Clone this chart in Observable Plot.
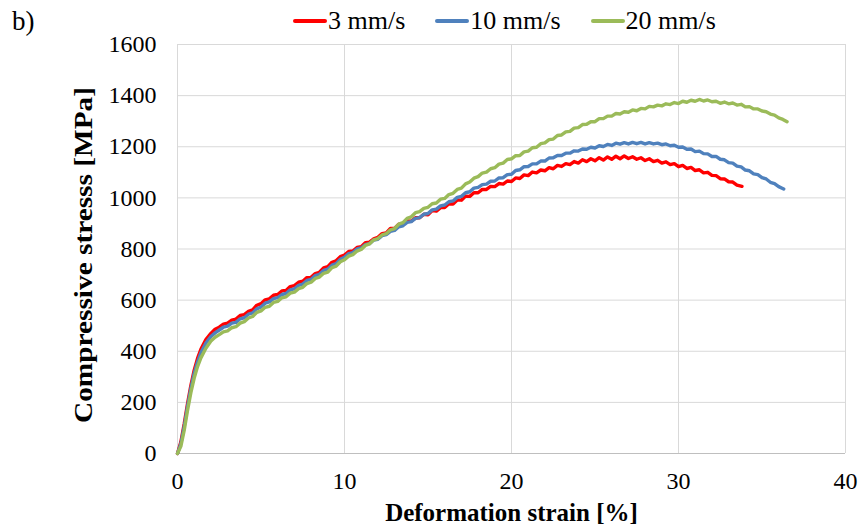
<!DOCTYPE html>
<html>
<head>
<meta charset="utf-8">
<script src="https://cdn.jsdelivr.net/npm/d3@7"></script>
<script src="https://cdn.jsdelivr.net/npm/@observablehq/plot@0.6"></script>
<style>
  body { margin: 0; background: #fff; font-family: "Liberation Serif", "Times New Roman", serif; }
  #wrap { position: relative; width: 861px; height: 532px; }
  #tag { position: absolute; left: 12px; top: 6px; font-size: 27px; }
  #legend { position: absolute; left: 293px; top: 6px; display: flex; gap: 30px; font-size: 26px; align-items: center; }
  .item { display: flex; align-items: center; }
  .sw { width: 34px; height: 4px; border-radius: 2px; margin-right: 1px; }
</style>
</head>
<body>
<div id="wrap">
  <div id="tag">b)</div>
  <div id="legend"></div>
  <div id="chart"></div>
</div>
<script>
const seriesNames = ["3 mm/s", "10 mm/s", "20 mm/s"];
const seriesColors = ["#ff0000", "#4f81bd", "#9bbb59"];
const xTicks = [0, 10, 20, 30, 40];
const yTicks = [0, 200, 400, 600, 800, 1000, 1200, 1400, 1600];

const red3 = [[0,0],[0.2,45],[0.4,115],[0.6,195],[0.8,266],[1.0,326],[1.2,372],[1.4,408],[1.7,446],[2.0,470],[2.25,486],[2.5,494],[2.75,506],[3.0,510],[3.25,522],[3.5,526],[3.75,540],[4.0,543],[4.25,556],[4.5,562],[4.75,580],[5.0,586],[5.25,601],[5.5,605],[5.75,619],[6.0,622],[6.25,636],[6.5,638],[6.75,653],[7.0,657],[7.25,670],[7.5,674],[7.75,688],[8.0,689],[8.25,704],[8.5,709],[8.75,726],[9.0,731],[9.25,748],[9.5,754],[9.75,770],[10.0,776],[10.25,790],[10.5,792],[10.75,806],[11.0,809],[11.25,825],[11.5,827],[11.75,840],[12.0,846],[12.25,860],[12.5,863],[12.75,880],[13.0,880],[13.25,897],[13.5,896],[13.75,910],[14.0,909],[14.25,922],[14.5,922],[14.75,936],[15.0,934],[15.25,950],[15.5,948],[15.75,962],[16.0,962],[16.25,977],[16.5,976],[16.75,992],[17.0,991],[17.25,1007],[17.5,1006],[17.75,1020],[18.0,1020],[18.25,1033],[18.5,1033],[18.75,1045],[19.0,1044],[19.25,1056],[19.5,1054],[19.75,1066],[20.0,1064],[20.25,1078],[20.5,1076],[20.75,1090],[21.0,1087],[21.25,1101],[21.5,1098],[21.75,1109],[22.0,1106],[22.25,1118],[22.5,1114],[22.75,1127],[23.0,1123],[23.25,1134],[23.5,1130],[23.75,1142],[24.0,1136],[24.25,1149],[24.5,1142],[24.75,1153],[25.0,1145],[25.25,1157],[25.5,1148],[25.75,1160],[26.0,1151],[26.25,1163],[26.5,1153],[26.75,1164],[27.0,1154],[27.25,1161],[27.5,1151],[27.75,1157],[28.0,1146],[28.25,1153],[28.5,1142],[28.75,1147],[29.0,1136],[29.25,1141],[29.5,1130],[29.75,1134],[30.0,1122],[30.25,1127],[30.5,1115],[30.75,1119],[31.0,1107],[31.25,1110],[31.5,1098],[31.75,1100],[32.0,1088],[32.25,1087],[32.5,1075],[32.75,1074],[33.0,1063],[33.25,1062],[33.5,1050],[33.8,1045]];

const blue10 = [[0,0],[0.2,38],[0.4,105],[0.6,185],[0.8,255],[1.0,314],[1.2,358],[1.4,394],[1.7,432],[2.0,458],[2.25,472],[2.5,483],[2.75,494],[3,498],[3.25,510],[3.5,513],[3.75,527],[4,531],[4.25,545],[4.5,550],[4.75,566],[5,573],[5.25,588],[5.5,593],[5.75,606],[6,610],[6.25,622],[6.5,626],[6.75,640],[7,644],[7.25,658],[7.5,663],[7.75,677],[8,681],[8.25,696],[8.5,701],[8.75,716],[9,721],[9.25,737],[9.5,743],[9.75,760],[10,768],[10.25,782],[10.5,786],[10.75,800],[11,804],[11.25,817],[11.5,821],[11.75,835],[12,838],[12.25,852],[12.5,856],[12.75,869],[13,873],[13.25,887],[13.5,891],[13.75,904],[14,907],[14.25,920],[14.5,923],[14.75,936],[15,939],[15.25,953],[15.5,956],[15.75,969],[16,972],[16.25,985],[16.5,988],[16.75,1002],[17,1006],[17.25,1020],[17.5,1024],[17.75,1038],[18,1041],[18.25,1052],[18.5,1054],[18.75,1065],[19,1066],[19.25,1078],[19.5,1079],[19.75,1091],[20,1092],[20.25,1107],[20.5,1110],[20.75,1122],[21,1123],[21.25,1133],[21.5,1133],[21.75,1144],[22,1144],[22.25,1156],[22.5,1157],[22.75,1166],[23,1166],[23.25,1175],[23.5,1175],[23.75,1184],[24,1183],[24.25,1191],[24.5,1190],[24.75,1198],[25,1195],[25.25,1204],[25.5,1201],[25.75,1209],[26,1205],[26.25,1214],[26.5,1210],[26.75,1216],[27,1211],[27.25,1217],[27.5,1212],[27.75,1217],[28,1211],[28.25,1216],[28.5,1211],[28.75,1214],[29,1208],[29.25,1211],[29.5,1204],[29.75,1206],[30,1198],[30.25,1199],[30.5,1190],[30.75,1191],[31,1181],[31.25,1183],[31.5,1173],[31.75,1172],[32,1162],[32.25,1162],[32.5,1151],[32.75,1149],[33,1138],[33.25,1136],[33.5,1124],[33.75,1121],[34,1109],[34.25,1106],[34.5,1094],[34.75,1091],[35,1079],[35.25,1074],[35.5,1061],[35.75,1056],[36,1044],[36.3,1035]];

const green20 = [[0,0],[0.2,28],[0.4,90],[0.6,168],[0.8,238],[1.0,295],[1.2,340],[1.4,374],[1.7,412],[2.0,440],[2.25,455],[2.5,465],[2.75,476],[3,480],[3.25,492],[3.5,496],[3.75,510],[4,516],[4.25,530],[4.5,536],[4.75,552],[5,558],[5.25,572],[5.5,576],[5.75,591],[6,595],[6.25,609],[6.5,613],[6.75,627],[7,631],[7.25,645],[7.5,650],[7.75,665],[8,670],[8.25,685],[8.5,690],[8.75,705],[9,710],[9.25,727],[9.5,733],[9.75,750],[10,758],[10.25,772],[10.5,778],[10.75,792],[11,798],[11.25,814],[11.5,820],[11.75,836],[12,841],[12.25,855],[12.5,860],[12.75,875],[13,880],[13.25,897],[13.5,903],[13.75,920],[14,926],[14.25,942],[14.5,946],[14.75,959],[15,963],[15.25,977],[15.5,980],[15.75,995],[16,998],[16.25,1013],[16.5,1018],[16.75,1033],[17,1038],[17.25,1055],[17.5,1062],[17.75,1077],[18,1083],[18.25,1097],[18.5,1101],[18.75,1114],[19,1118],[19.25,1132],[19.5,1136],[19.75,1150],[20,1153],[20.25,1165],[20.5,1166],[20.75,1180],[21,1183],[21.25,1196],[21.5,1198],[21.75,1212],[22,1215],[22.25,1228],[22.5,1230],[22.75,1244],[23,1246],[23.25,1258],[23.5,1260],[23.75,1273],[24,1275],[24.25,1287],[24.5,1288],[24.75,1298],[25,1298],[25.25,1310],[25.5,1310],[25.75,1320],[26,1320],[26.25,1330],[26.5,1328],[26.75,1337],[27,1335],[27.25,1344],[27.5,1341],[27.75,1350],[28,1348],[28.25,1358],[28.5,1356],[28.75,1363],[29,1360],[29.25,1368],[29.5,1365],[29.75,1373],[30,1369],[30.25,1378],[30.5,1374],[30.75,1382],[31,1378],[31.25,1385],[31.5,1379],[31.75,1383],[32,1376],[32.25,1378],[32.5,1370],[32.75,1375],[33,1368],[33.25,1371],[33.5,1363],[33.75,1366],[34,1356],[34.25,1357],[34.5,1348],[34.75,1348],[35,1340],[35.25,1337],[35.5,1328],[35.75,1324],[36,1313],[36.25,1307],[36.5,1298]];

const allSeries = [red3, blue10, green20];
const rows = [];
allSeries.forEach((s, i) => s.forEach(([x, y]) => rows.push({series: seriesNames[i], x, y})));

// legend
const legend = document.getElementById("legend");
seriesNames.forEach((n, i) => {
  const it = document.createElement("div");
  it.className = "item";
  const sw = document.createElement("div");
  sw.className = "sw";
  sw.style.background = seriesColors[i];
  const t = document.createElement("span");
  t.textContent = n;
  it.appendChild(sw); it.appendChild(t);
  legend.appendChild(it);
});

const yLabel = "Compressive stresss [MPa]";
const xLabel = "Deformation strain [%]";

const chart = Plot.plot({
  width: 861,
  height: 532,
  marginTop: 44,
  marginBottom: 79,
  marginLeft: 177,
  marginRight: 16,
  style: { fontFamily: "Liberation Serif, Times New Roman, serif", fontSize: "24px", color: "#000", background: "transparent" },
  x: { domain: [0, 40] },
  y: { domain: [0, 1600] },
  color: { domain: seriesNames, range: seriesColors },
  marks: [
    Plot.gridX(xTicks, { stroke: "#d9d9d9", strokeOpacity: 1 }),
    Plot.gridY(yTicks, { stroke: "#d9d9d9", strokeOpacity: 1 }),
    Plot.ruleY([0], { stroke: "#bfbfbf" }),
    Plot.axisX(xTicks, { tickSize: 0, tickPadding: 18, label: null, fontSize: 24, tickFormat: d => String(d) }),
    Plot.axisY(yTicks, { tickSize: 0, tickPadding: 21, label: null, fontSize: 24, tickFormat: d => String(d) }),
    Plot.line(rows, { x: "x", y: "y", z: "series", stroke: "series", strokeWidth: 3.4, strokeLinejoin: "round" }),
    Plot.text([xLabel], { frameAnchor: "bottom", dy: 67, fontWeight: "bold", fontSize: 25 }),
    Plot.text([yLabel], { frameAnchor: "left", textAnchor: "middle", dx: -94, dy: 6, rotate: -90, fontWeight: "bold", fontSize: 25 })
  ]
});
document.getElementById("chart").appendChild(chart);
// condense/stretch the y label to the reference's set width
chart.querySelectorAll("text").forEach(t => {
  if (t.textContent === yLabel) {
    t.setAttribute("textLength", "336");
    t.setAttribute("lengthAdjust", "spacingAndGlyphs");
  }
});
</script>
</body>
</html>
